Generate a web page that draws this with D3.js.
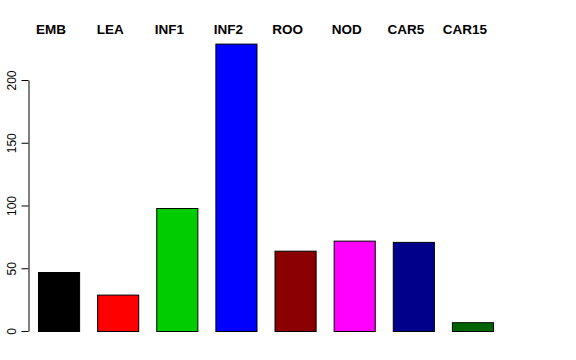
<!DOCTYPE html>
<html>
<head>
<meta charset="utf-8">
<script src="https://cdn.jsdelivr.net/npm/d3@7"></script>
<style>
  body { margin: 0; background: #fff; }
  text { font-family: "Liberation Sans", Arial, sans-serif; }
</style>
</head>
<body>
<svg id="chart" width="576" height="360"></svg>
<script>
// data
var categories = ["EMB", "LEA", "INF1", "INF2", "ROO", "NOD", "CAR5", "CAR15"];
var counts = [47, 29, 98, 229, 64, 72, 71, 7];
var barColors = ["#000000", "#ff0000", "#00cd00", "#0000ff", "#8b0000", "#ff00ff", "#00008b", "#006400"];
var yTicks = [0, 50, 100, 150, 200];

var svg = d3.select("svg#chart");

var x = d3.scaleBand()
    .domain(categories)
    .range([38, 494])
    .paddingInner(0.288)
    .paddingOuter(0);

var y = d3.scaleLinear()
    .domain([0, 200])
    .range([331, 80]);

// bars
svg.selectAll("rect.bar")
    .data(categories)
    .enter().append("rect")
    .attr("class", "bar")
    .attr("x", function(d) { return x(d) + 0.5; })
    .attr("y", function(d, i) { return y(counts[i]) + 0.5; })
    .attr("width", x.bandwidth() - 1)
    .attr("height", function(d, i) { return y(0) - y(counts[i]); })
    .attr("fill", function(d, i) { return barColors[i]; })
    .attr("stroke", "#000")
    .attr("stroke-width", 1);

// category labels on top
svg.selectAll("text.cat")
    .data(categories)
    .enter().append("text")
    .attr("class", "cat")
    .attr("x", function(d) { return x(d) + x.bandwidth() / 2 - 8; })
    .attr("y", 34)
    .attr("text-anchor", "middle")
    .style("font-size", "13.5px")
    .style("font-weight", "bold")
    .text(function(d) { return d; });

// y axis
var yAxis = d3.axisLeft(y)
    .tickValues(yTicks)
    .tickSize(7)
    .tickPadding(4)
    .tickSizeOuter(0);

var gy = svg.append("g")
    .attr("transform", "translate(28.5,0)")
    .call(yAxis);

gy.select(".domain").attr("stroke", "#000");
gy.selectAll(".tick line").attr("stroke", "#000");
gy.selectAll(".tick text")
    .attr("transform", "rotate(-90)")
    .attr("x", 0)
    .attr("y", -13)
    .attr("dy", 0)
    .attr("text-anchor", "middle")
    .attr("fill", "#000")
    .style("font-size", "12px")
    .style("font-family", "'Liberation Sans', Arial, sans-serif");
</script>
</body>
</html>
